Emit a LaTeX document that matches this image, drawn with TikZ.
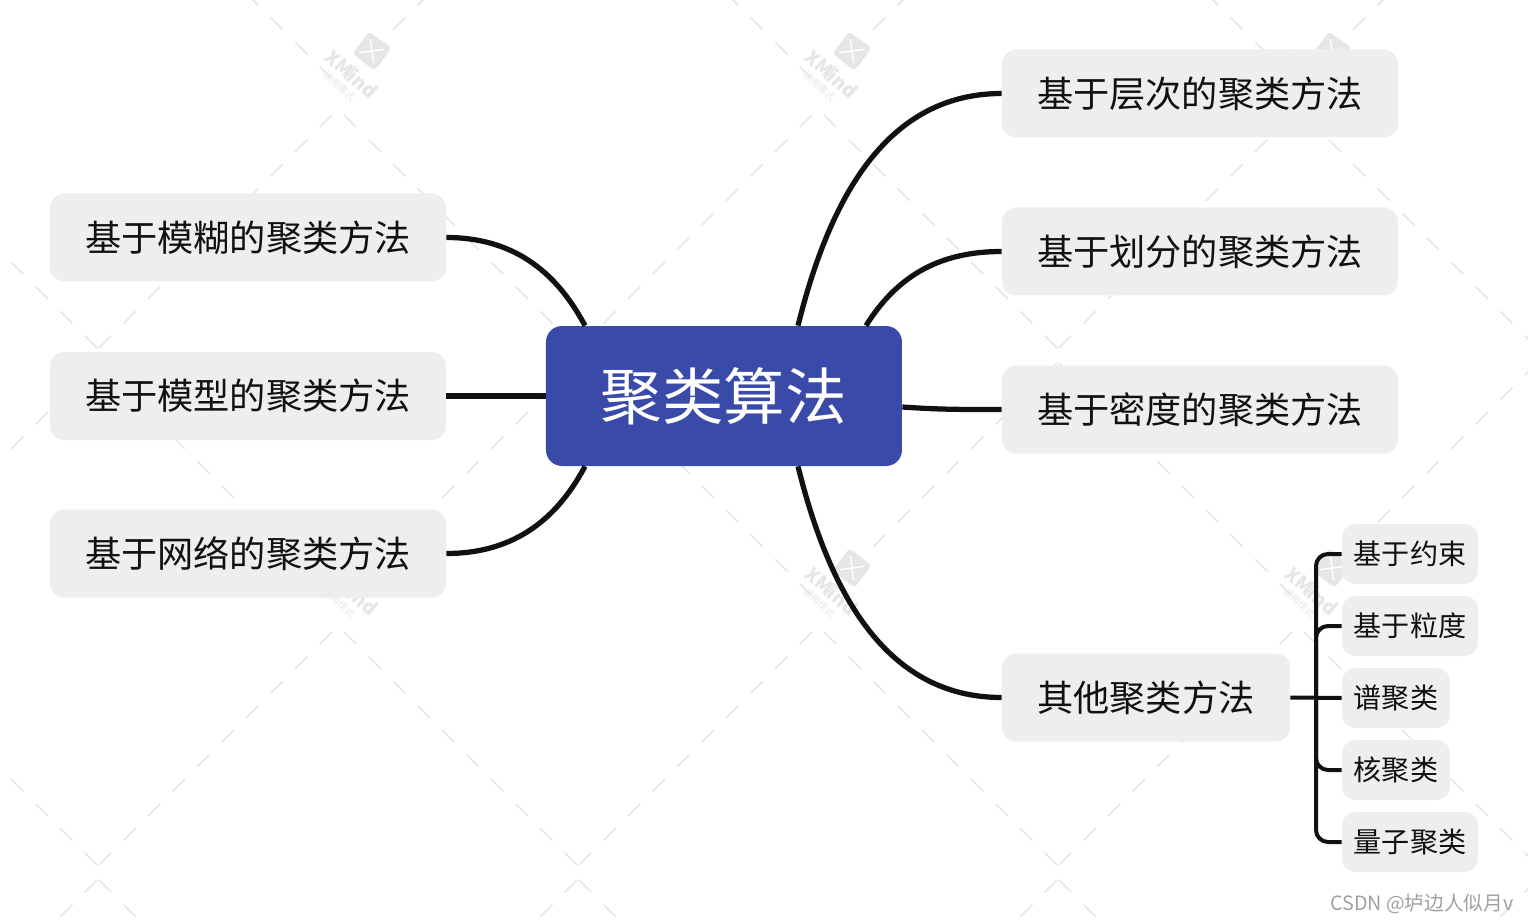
\documentclass[tikz,border=0pt]{standalone}
\usepackage{fontspec}
\setsansfont{Noto Sans CJK SC}
\definecolor{ink}{HTML}{111111}
\definecolor{rootblue}{HTML}{3A4AA9}
\definecolor{boxbg}{HTML}{EEEEEE}
\definecolor{markgray}{HTML}{E6E6E6}
\definecolor{signgray}{HTML}{A0A0A0}
\usetikzlibrary{positioning,calc}

\begin{document}
\begin{tikzpicture}[
  font=\sffamily,
  root/.style={fill=rootblue, text=white, rounded corners=0.32cm, inner sep=0pt,
               minimum width=7.12cm, minimum height=2.8cm,
               font=\sffamily\fontsize{35}{40}\selectfont},
  lvl1/.style={fill=boxbg, text=ink, rounded corners=0.28cm, inner sep=0pt,
               minimum width=7.92cm, minimum height=1.76cm,
               font=\sffamily\fontsize{20.6}{24}\selectfont},
  lvl2/.style={fill=boxbg, text=ink, rounded corners=0.26cm, inner sep=0pt,
               minimum width=2.72cm, minimum height=1.2cm,
               font=\sffamily\fontsize{16}{20}\selectfont},
  link/.style={ink, line width=0.105cm},
  sublink/.style={ink, line width=0.08cm, rounded corners=0.24cm},
  markarm/.style={markgray, line width=0.03cm,
                  dash pattern=on 0.346cm off 0.348cm, dash phase=0.524cm},
  logobox/.style={fill=markgray, rounded corners=2pt, minimum size=0.56cm,
                  inner sep=0pt, rotate=-37},
  marktext/.style={text=markgray, inner sep=0pt, rotate=-42}
]
  \clip (-14.48,7.92) rectangle (16.08,-10.52);

  % watermark
  \foreach \wx in {-17.32,-7.72,1.88,11.48,21.08}
    \foreach \wy in {16.32,5.98,-4.36,-14.70} {
      \coordinate (up) at (\wx,\wy+0.24);
      \coordinate (dn) at (\wx,\wy-0.24);
      \draw[markarm] (up) -- +(-4.8,4.8);
      \draw[markarm] (up) -- +(4.8,4.8);
      \draw[markarm] (dn) -- +(-4.8,-4.8);
      \draw[markarm] (dn) -- +(4.8,-4.8);
    }
  \foreach \wx in {-7.72,1.88,11.48}
    \foreach \wy in {5.98,-4.36} {
      \node[logobox] (logo) at (\wx+0.68,\wy+0.92) {};
      \draw[white, line width=0.03cm] ($(logo.north west)!.2!(logo.south east)$) -- ($(logo.north west)!.8!(logo.south east)$);
      \draw[white, line width=0.03cm] ($(logo.north east)!.2!(logo.south west)$) -- ($(logo.north east)!.8!(logo.south west)$);
      \node[marktext, font=\sffamily\bfseries\fontsize{11}{12}\selectfont] (markname) at (\wx+0.28,\wy+0.46) {XMind};
      \node[marktext, font=\sffamily\fontsize{5.5}{6}\selectfont] (markmode) at (\wx+0.02,\wy+0.22) {试用模式};
    }

  \node[root] (algo) at (0,0) {聚类算法};

  \node[lvl1] (fuzzy) at (-9.52, 3.17) {基于模糊的聚类方法};
  \node[lvl1] (model) at (-9.52, 0.00) {基于模型的聚类方法};
  \node[lvl1] (grid)  at (-9.52,-3.15) {基于网络的聚类方法};

  \node[lvl1] (hier)  at ( 9.52, 6.05) {基于层次的聚类方法};
  \node[lvl1] (part)  at ( 9.52, 2.89) {基于划分的聚类方法};
  \node[lvl1] (dens)  at ( 9.52,-0.27) {基于密度的聚类方法};
  \node[lvl1, minimum width=5.76cm] (other) at (8.44,-6.03) {其他聚类方法};

  \node[lvl2] (cons)  at (13.72,-3.16) {基于约束};
  \node[lvl2] (gran)  at (13.72,-4.60) {基于粒度};
  \node[lvl2, minimum width=2.16cm] (spec) at (13.44,-6.04) {谱聚类};
  \node[lvl2, minimum width=2.16cm] (kern) at (13.44,-7.48) {核聚类};
  \node[lvl2] (quan)  at (13.72,-8.92) {量子聚类};

  \node[text=signgray, inner sep=0pt, font=\sffamily\fontsize{11.2}{13}\selectfont] (sign) at (13.96,-10.16) {CSDN @垆边人似月v};

  \coordinate (spine) at ($(other.east)!0.5!(spec.west)$);

  \draw[link] (fuzzy.east) to[out=0,in=118] ($(algo.north)+(-2.78,0)$);
  \draw[link] (model.east) -- (algo.west);
  \draw[link] (grid.east)  to[out=0,in=-118] ($(algo.south)+(-2.78,0)$);
  \draw[link] (hier.west)  to[out=180,in=76] ($(algo.north)+(1.48,0)$);
  \draw[link] (part.west)  to[out=180,in=58] ($(algo.north)+(2.84,0)$);
  \draw[link] (dens.west)  to[out=180,in=-4] ($(algo.east)+(0,-0.22)$);
  \draw[link] (other.west) to[out=180,in=-76] ($(algo.south)+(1.48,0)$);

  \draw[sublink] (other.east) -- (spec.west);
  \draw[sublink] (spine) |- (cons.west);
  \draw[sublink] (spine) |- (gran.west);
  \draw[sublink] (spine) |- (kern.west);
  \draw[sublink] (spine) |- (quan.west);
\end{tikzpicture}
\end{document}
